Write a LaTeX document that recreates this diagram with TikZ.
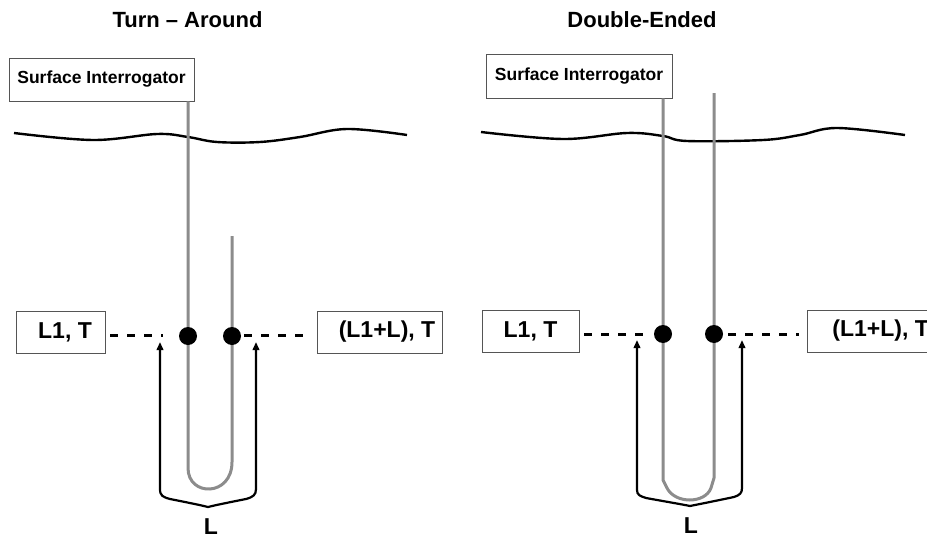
\documentclass[tikz,border=0pt]{standalone}
\usepackage{fontspec}
\setmainfont{Liberation Sans}
\usetikzlibrary{arrows.meta}
\definecolor{fibergray}{HTML}{8C8C8C}
\definecolor{boxline}{HTML}{555555}
\begin{document}
\begin{tikzpicture}[x=1pt,y=-1pt,
  box/.style={draw=boxline, line width=0.9pt, fill=white, inner sep=0pt, font=\bfseries\fontsize{23}{26}\selectfont},
  sibox/.style={draw=boxline, line width=0.9pt, fill=white, inner sep=0pt, font=\bfseries\fontsize{17.5}{20}\selectfont},
  titletext/.style={inner sep=0pt, font=\bfseries\fontsize{22}{26}\selectfont},
  lbl/.style={inner sep=0pt, font=\bfseries\fontsize{23}{26}\selectfont},
  fiber/.style={draw=fibergray, line width=3pt},
  wave/.style={draw=black, line width=2.4pt},
  dotnode/.style={circle, fill=black, minimum size=18pt, inner sep=0pt},
  dashline/.style={line width=3pt, dash pattern=on 8pt off 9pt},
  bracearrow/.style={line width=2.2pt, {Triangle[length=8pt,width=6.5pt]}-{Triangle[length=8pt,width=6.5pt]}}
]
\useasboundingbox (0,0) rectangle (927,538);
\clip (0,0) rectangle (927,538);

% ---------------- Left panel: Turn - Around ----------------
\node[titletext] (titleA) at (187.5,20) {Turn – Around};
\draw[wave] plot[smooth, tension=0.6] coordinates {(14,133) (93,140) (157,134) (188,137) (217,142) (260,142) (300,137) (347,129) (407,135)};

\node[sibox, minimum width=185pt, minimum height=43pt] (siA) at (101.5,79.5) {Surface Interrogator};

\coordinate (dA1pos) at (188,336);
\coordinate (topA) at (232,236);
\draw[fiber] (siA.south -| dA1pos) -- (188,468) .. controls (188,497) and (232,497) .. (232,462) -- (topA);

\node[dotnode] (dA1) at (188,336) {};
\node[dotnode] (dA2) at (232,336) {};

\node[box, minimum width=89pt, minimum height=42pt] (l1A) at (60.5,332) {\hspace*{9pt}L1, T};
\node[box, minimum width=125pt, minimum height=42pt] (lpA) at (379.5,332) {\hspace*{15pt}(L1+L), T};

\coordinate (daS) at (110,335);
\coordinate (daE) at (163,335);
\coordinate (dbS) at (244,335);
\coordinate (dbE) at (310,335);
\draw[dashline] (daS) -- (daE);
\draw[dashline] (dbS) -- (dbE);

\coordinate (bA1) at (160,342);
\coordinate (bA2) at (256,342);
\draw[bracearrow] (bA1) -- (160,489) .. controls (160,496) and (163,497) .. (170,499) .. controls (190,503) and (200,505) .. (208,507) .. controls (216,505) and (226,503) .. (246,499) .. controls (253,497) and (256,495) .. (256,489) -- (bA2);

\node[lbl] (LA) at (211,526.5) {L};

% ---------------- Right panel: Double-Ended ----------------
\node[titletext] (titleB) at (642,20) {Double-Ended};
\draw[wave] plot[smooth, tension=0.6] coordinates {(481,132) (563,139) (627,133) (663,136) (687,141) (763,140) (800,135) (837,128) (905,135)};

\node[sibox, minimum width=186pt, minimum height=44pt] (siB) at (579,76) {Surface Interrogator};

\coordinate (dB1pos) at (663,334);
\coordinate (topB) at (714,93);
\draw[fiber] (siB.south -| dB1pos) -- (663,480) -- (667,488) .. controls (675,504) and (705,504) .. (711,488) -- (714,478) -- (topB);

\node[dotnode] (dB1) at (663,334) {};
\node[dotnode] (dB2) at (714,334) {};

\node[box, minimum width=97pt, minimum height=42pt] (l1B) at (530.5,331) {L1, T};
\node[box, anchor=west, minimum height=42pt, inner xsep=25pt] (lpB) at (807,331) {(L1+L), T};

\coordinate (dcS) at (584,334);
\coordinate (dcE) at (647,334);
\coordinate (ddS) at (728,334);
\coordinate (ddE) at (799,334);
\draw[dashline] (dcS) -- (dcE);
\draw[dashline] (ddS) -- (ddE);

\coordinate (bB1) at (637,340);
\coordinate (bB2) at (742,340);
\draw[bracearrow] (bB1) -- (637,490) .. controls (637,495) and (640,496) .. (646,498) .. controls (668,502) and (680,504) .. (690,506) .. controls (700,504) and (715,501) .. (734,497) .. controls (740,495) and (742,493) .. (742,488) -- (bB2);

\node[lbl] (LB) at (691,526) {L};
\end{tikzpicture}
\end{document}
